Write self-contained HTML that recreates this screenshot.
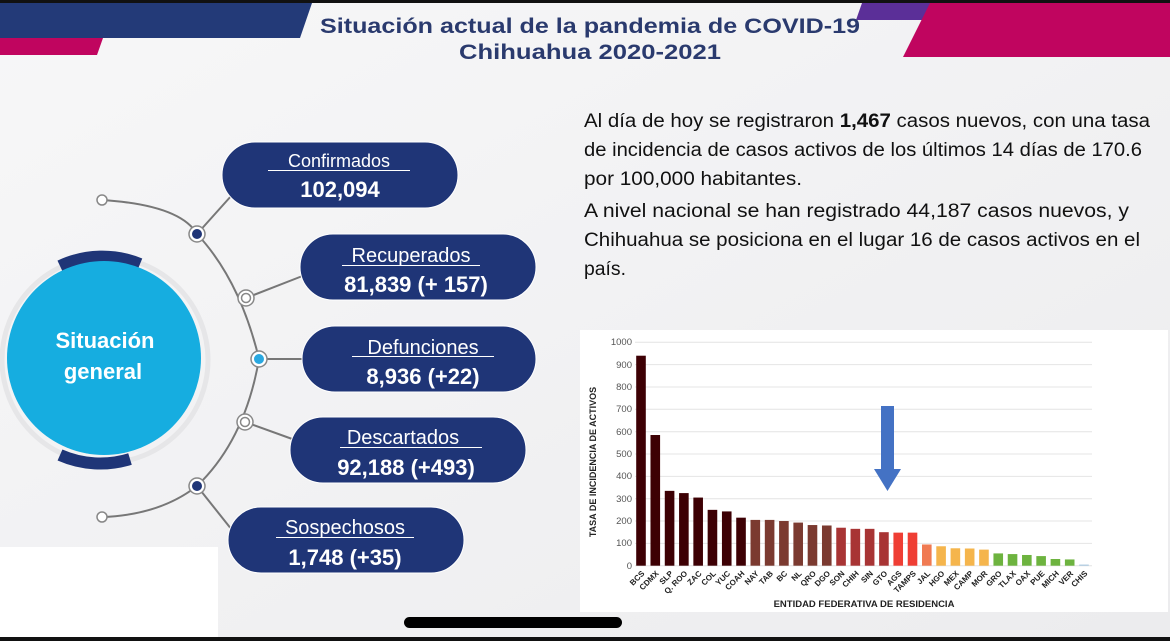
<!DOCTYPE html>
<html><head><meta charset="utf-8"><style>
html,body{margin:0;padding:0;width:1170px;height:641px;overflow:hidden;background:#f3f3f4;}
svg{display:block}
</style></head><body>
<svg width="1170" height="641" viewBox="0 0 1170 641" xmlns="http://www.w3.org/2000/svg" font-family="Liberation Sans, sans-serif">
<defs>
<linearGradient id="bg" x1="0" y1="0" x2="1" y2="1"><stop offset="0" stop-color="#f7f7f8"/><stop offset="1" stop-color="#ececee"/></linearGradient>
</defs>
<rect width="1170" height="641" fill="url(#bg)"/>
<rect x="0" y="0" width="1170" height="3" fill="#111"/>
<polygon points="0,3 312,3 300,38 0,38" fill="#233a78"/>
<polygon points="0,38 103,38 97,55 0,55" fill="#c0055f"/>
<polygon points="862,3 935,3 925,20 856,20" fill="#5b2f98"/>
<polygon points="930,3 1170,3 1170,57 903,57" fill="#c0055f"/>
<text x="590" y="33" text-anchor="middle" font-size="21" font-weight="bold" fill="#2a3a6e" textLength="540" lengthAdjust="spacingAndGlyphs">Situación actual de la pandemia de COVID-19</text>
<text x="590" y="59" text-anchor="middle" font-size="21" font-weight="bold" fill="#2a3a6e" textLength="262" lengthAdjust="spacingAndGlyphs">Chihuahua 2020-2021</text>
<g font-size="19" fill="#111">
<text x="584" y="127" textLength="566" lengthAdjust="spacingAndGlyphs">Al día de hoy se registraron <tspan font-weight="bold">1,467</tspan> casos nuevos, con una tasa</text>
<text x="584" y="156" textLength="558" lengthAdjust="spacingAndGlyphs">de incidencia de casos activos de los últimos 14 días de 170.6</text>
<text x="584" y="185" textLength="218" lengthAdjust="spacingAndGlyphs">por 100,000 habitantes.</text>
<text x="584" y="217" textLength="545" lengthAdjust="spacingAndGlyphs">A nivel nacional se han registrado 44,187 casos nuevos, y</text>
<text x="584" y="246" textLength="556" lengthAdjust="spacingAndGlyphs">Chihuahua se posiciona en el lugar 16 de casos activos en el</text>
<text x="584" y="275" textLength="42" lengthAdjust="spacingAndGlyphs">país.</text>
</g>
<path d="M102,200 Q180,205 197,234 Q240,280 259,359 Q245,440 197,486 Q160,515 102,517" fill="none" stroke="#777" stroke-width="2"/>
<line x1="197" y1="234" x2="232" y2="195" stroke="#777" stroke-width="2"/>
<line x1="246" y1="298" x2="305" y2="275" stroke="#777" stroke-width="2"/>
<line x1="259" y1="359" x2="305" y2="359" stroke="#777" stroke-width="2"/>
<line x1="245" y1="422" x2="295" y2="440" stroke="#777" stroke-width="2"/>
<line x1="197" y1="486" x2="232" y2="530" stroke="#777" stroke-width="2"/>
<circle cx="102" cy="200" r="5" fill="#fff" stroke="#888" stroke-width="1.5"/>
<circle cx="102" cy="517" r="5" fill="#fff" stroke="#888" stroke-width="1.5"/>
<g stroke="#888" stroke-width="1.5">
<circle cx="197" cy="234" r="8" fill="#fff"/><circle cx="197" cy="234" r="5" fill="#1f3577" stroke="none"/>
<circle cx="246" cy="298" r="8" fill="#fff"/><circle cx="246" cy="298" r="4.5" fill="#fff"/>
<circle cx="259" cy="359" r="8" fill="#fff"/><circle cx="259" cy="359" r="5" fill="#2aa8e0" stroke="none"/>
<circle cx="245" cy="422" r="8" fill="#fff"/><circle cx="245" cy="422" r="4.5" fill="#fff"/>
<circle cx="197" cy="486" r="8" fill="#fff"/><circle cx="197" cy="486" r="5" fill="#1f3577" stroke="none"/>
</g>
<circle cx="105" cy="360" r="103" fill="none" stroke="#e6e6e8" stroke-width="5"/>
<path d="M60,266 A100,100 0 0 1 140,264" fill="none" stroke="#1f3577" stroke-width="12"/>
<path d="M60,455 A100,100 0 0 0 130,459" fill="none" stroke="#1f3577" stroke-width="12"/>
<path d="M180,325 A100,100 0 0 1 182,405" fill="none" stroke="#29a4dc" stroke-width="9"/>
<circle cx="104" cy="358" r="97" fill="#16ade0"/>
<text x="105" y="348" text-anchor="middle" font-size="22" font-weight="bold" fill="#fff">Situación</text>
<text x="103" y="379" text-anchor="middle" font-size="22" font-weight="bold" fill="#fff">general</text>
<g fill="#1f3577" stroke="#fff" stroke-width="1">
<rect x="222" y="142" width="236" height="66" rx="33"/>
<rect x="300" y="234" width="236" height="66" rx="33"/>
<rect x="302" y="326" width="234" height="66" rx="33"/>
<rect x="290" y="417" width="236" height="66" rx="33"/>
<rect x="228" y="507" width="236" height="66" rx="33"/>
</g>
<g fill="#fff" text-anchor="middle">
<text x="339" y="167" font-size="18">Confirmados</text><rect x="268" y="170" width="142" height="1"/>
<text x="340" y="197" font-size="22" font-weight="bold">102,094</text>
<text x="411" y="262" font-size="20">Recuperados</text><rect x="342" y="265" width="138" height="1"/>
<text x="416" y="292" font-size="22" font-weight="bold">81,839 (+ 157)</text>
<text x="423" y="354" font-size="20">Defunciones</text><rect x="352" y="356" width="142" height="1"/>
<text x="423" y="384" font-size="22" font-weight="bold">8,936 (+22)</text>
<text x="403" y="444" font-size="20">Descartados</text><rect x="340" y="447" width="142" height="1"/>
<text x="406" y="475" font-size="22" font-weight="bold">92,188 (+493)</text>
<text x="345" y="534" font-size="20">Sospechosos</text><rect x="276" y="537" width="138" height="1"/>
<text x="345" y="565" font-size="22" font-weight="bold">1,748 (+35)</text>
</g>
<rect x="0" y="547" width="218" height="94" fill="#fff"/>
<rect x="580" y="330" width="588" height="282" fill="#fff"/>
<g stroke="#e4e4e4" stroke-width="1">
<line x1="635" x2="1092" y1="342.3" y2="342.3"/><line x1="635" x2="1092" y1="364.6" y2="364.6"/>
<line x1="635" x2="1092" y1="387" y2="387"/><line x1="635" x2="1092" y1="409.3" y2="409.3"/>
<line x1="635" x2="1092" y1="431.7" y2="431.7"/><line x1="635" x2="1092" y1="454" y2="454"/>
<line x1="635" x2="1092" y1="476.4" y2="476.4"/><line x1="635" x2="1092" y1="498.7" y2="498.7"/>
<line x1="635" x2="1092" y1="521" y2="521"/><line x1="635" x2="1092" y1="543.4" y2="543.4"/>
<line x1="635" x2="1092" y1="565.7" y2="565.7"/>
</g>
<g font-size="9.5" fill="#555" text-anchor="end">
<text x="632" y="345">1000</text><text x="632" y="368">900</text><text x="632" y="390">800</text>
<text x="632" y="412">700</text><text x="632" y="435">600</text><text x="632" y="457">500</text>
<text x="632" y="479">400</text><text x="632" y="502">300</text><text x="632" y="524">200</text>
<text x="632" y="546">100</text><text x="632" y="569">0</text>
</g>
<text transform="translate(596,462) rotate(-90)" text-anchor="middle" font-size="9" font-weight="bold" fill="#222">TASA DE INCIDENCIA DE ACTIVOS</text>
<text x="864" y="607" text-anchor="middle" font-size="9.5" font-weight="bold" fill="#222">ENTIDAD FEDERATIVA DE RESIDENCIA</text>
<g id="bars"></g>
<g id="xl" font-size="8" font-weight="bold" fill="#222" text-anchor="end"></g>
<rect x="881" y="406" width="13" height="64" fill="#4472c4"/>
<polygon points="874,469 901,469 887.5,491" fill="#4472c4"/>
<rect x="404" y="617" width="218" height="11" rx="5.5" fill="#000"/>
<text x="690" y="648" font-size="14" fill="#222">Fuente: Información preliminar de COVID-19 México</text>
<rect x="0" y="637" width="1170" height="4" fill="#111"/>
</svg>
<script>
var d=[["BCS",940,"#3d0004"],["CDMX",585,"#3d0004"],["SLP",335,"#3d0004"],["Q. ROO",325,"#3d0004"],["ZAC",305,"#3d0004"],["COL",250,"#3d0004"],["YUC",243,"#3d0004"],["COAH",215,"#3d0004"],["NAY",205,"#7b3a30"],["TAB",205,"#7b3a30"],["BC",200,"#7b3a30"],["NL",193,"#7b3a30"],["QRO",182,"#7b3a30"],["DGO",180,"#7b3a30"],["SON",170,"#a83434"],["CHIH",165,"#a83434"],["SIN",165,"#a83434"],["GTO",150,"#a83434"],["AGS",148,"#ef3e34"],["TAMPS",148,"#ef3e34"],["JAL",95,"#f07a52"],["HGO",87,"#f5b54c"],["MEX",78,"#f5b54c"],["CAMP",77,"#f5b54c"],["MOR",72,"#f5b54c"],["GRO",55,"#6db33f"],["TLAX",52,"#6db33f"],["OAX",48,"#6db33f"],["PUE",43,"#6db33f"],["MICH",30,"#6db33f"],["VER",28,"#6db33f"],["CHIS",5,"#a9c8e0"]];
var ns="http://www.w3.org/2000/svg",b=document.getElementById("bars"),x=document.getElementById("xl");
d.forEach(function(r,i){var c=641+i*14.29,h=r[1]*0.2234;
var e=document.createElementNS(ns,"rect");e.setAttribute("x",c-4.8);e.setAttribute("y",565.7-h);e.setAttribute("width",9.6);e.setAttribute("height",h);e.setAttribute("fill",r[2]);b.appendChild(e);
var t=document.createElementNS(ns,"text");t.setAttribute("transform","translate("+(c+4)+",574) rotate(-45)");t.textContent=r[0];x.appendChild(t);});
</script>
</body></html>
